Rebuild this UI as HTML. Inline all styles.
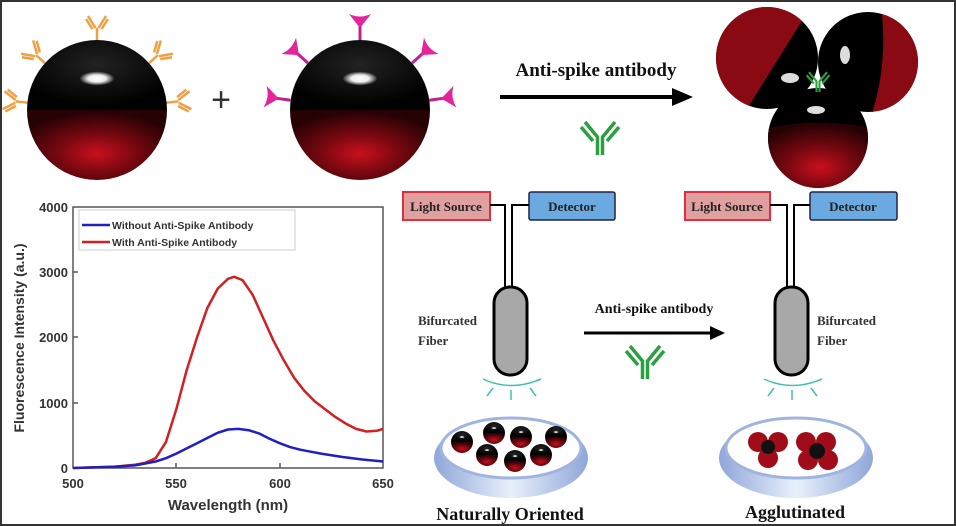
<!DOCTYPE html>
<html><head><meta charset="utf-8"><style>
html,body{margin:0;padding:0;background:#fff}
svg{display:block}
.b{font-family:"Liberation Serif",serif;font-weight:bold}
.s{font-family:"Liberation Sans",sans-serif;font-weight:bold}
</style></head><body>
<svg width="956" height="526" viewBox="0 0 956 526" xmlns="http://www.w3.org/2000/svg">
<defs>
<radialGradient id="blk" cx="0.5" cy="0.35" r="0.6"><stop offset="0" stop-color="#222"/><stop offset="1" stop-color="#000"/></radialGradient>
<radialGradient id="red" cx="0.5" cy="0.62" r="0.6"><stop offset="0" stop-color="#c8101e"/><stop offset="0.45" stop-color="#7a0810"/><stop offset="1" stop-color="#260204"/></radialGradient>
<radialGradient id="hl" cx="0.5" cy="0.5" r="0.5"><stop offset="0" stop-color="#fff"/><stop offset="0.5" stop-color="#eee"/><stop offset="1" stop-color="#fff" stop-opacity="0"/></radialGradient>
<linearGradient id="dish" x1="0" y1="0" x2="1" y2="0"><stop offset="0" stop-color="#8fa6d8"/><stop offset="0.5" stop-color="#e8f0fb"/><stop offset="1" stop-color="#8fa6d8"/></linearGradient>
<symbol id="sph" viewBox="-1 -1 2 2">
<clipPath id="cc"><circle r="1"/></clipPath>
<g clip-path="url(#cc)"><rect x="-1" y="-1" width="2" height="1" fill="url(#blk)"/><rect x="-1" y="0" width="2" height="1" fill="url(#red)"/></g>
<ellipse cx="0" cy="-0.45" rx="0.25" ry="0.1" fill="url(#hl)"/>
</symbol>
<g id="ab"><path d="M0 0 V-12 M-1.5 -12 L-9 -24 M1.5 -12 L9 -24 M-4.5 -11 L-11 -21 M4.5 -11 L11 -21" stroke="#f0a040" stroke-width="2.5" fill="none"/></g>
<g id="sp"><path d="M0 0 V-14" stroke="#c0208f" stroke-width="3"/><path d="M0 -12 L-11 -26 Q0 -21 11 -26 Z" fill="#e5239a"/></g>
<g id="gy"><path d="M-2.5 0 V-18 L-15 -33 M2.5 0 V-18 L15 -33 M-7 -14 L-19 -28 M7 -14 L19 -28" stroke="#2aa040" stroke-width="3.5" fill="none"/></g>
</defs>
<rect x="0" y="0" width="956" height="526" fill="#fff"/>
<rect x="1" y="1" width="954" height="524" fill="none" stroke="#333" stroke-width="2"/>

<g transform="translate(97,110)">
<g transform="translate(0,-70)"><use href="#ab"/></g>
<g transform="rotate(-48) translate(0,-70)"><use href="#ab"/></g>
<g transform="rotate(48) translate(0,-70)"><use href="#ab"/></g>
<g transform="rotate(-84) translate(0,-70)"><use href="#ab"/></g>
<g transform="rotate(84) translate(0,-70)"><use href="#ab"/></g>
</g>
<use href="#sph" x="27" y="40" width="140" height="140"/>
<text x="221" y="111" font-family="Liberation Sans" font-size="34" text-anchor="middle" fill="#333">+</text>
<g transform="translate(360,110)">
<g transform="translate(0,-70)"><use href="#sp"/></g>
<g transform="rotate(-48) translate(0,-70)"><use href="#sp"/></g>
<g transform="rotate(48) translate(0,-70)"><use href="#sp"/></g>
<g transform="rotate(-82) translate(0,-70)"><use href="#sp"/></g>
<g transform="rotate(82) translate(0,-70)"><use href="#sp"/></g>
</g>
<use href="#sph" x="290" y="40" width="140" height="140"/>

<text x="596" y="76" class="b" font-size="19" text-anchor="middle" fill="#111">Anti-spike antibody</text>
<line x1="500" y1="97" x2="675" y2="97" stroke="#000" stroke-width="4"/>
<path d="M672 88 L693 97 L672 106 Z" fill="#000"/>
<g transform="translate(600,155)"><use href="#gy"/></g>

<!-- cluster -->
<clipPath id="c1"><circle cx="767" cy="58" r="51"/></clipPath>
<g clip-path="url(#c1)"><rect x="710" y="0" width="120" height="120" fill="#000"/><path d="M710 0 H815 L740 120 H710 Z" fill="#8a0a14"/></g>
<clipPath id="c2"><circle cx="868" cy="62" r="50"/></clipPath>
<g clip-path="url(#c2)"><rect x="810" y="0" width="120" height="120" fill="#000"/><path d="M880 0 H930 V120 H870 Q890 60 880 0Z" fill="#8a0a14"/></g>
<clipPath id="c3"><circle cx="818" cy="138" r="50"/></clipPath>
<g clip-path="url(#c3)"><rect x="760" y="85" width="120" height="110" fill="#000"/><path d="M760 130 Q818 115 880 130 V195 H760 Z" fill="url(#red)"/></g>
<ellipse cx="790" cy="78" rx="9" ry="5" fill="#ddd"/>
<ellipse cx="845" cy="55" rx="5" ry="9" fill="#ddd"/>
<ellipse cx="816" cy="110" rx="9" ry="4" fill="#ddd"/>
<g transform="translate(818,92) scale(0.6)"><use href="#gy"/></g>

<!-- graph -->
<rect x="73" y="207" width="310" height="261" fill="none" stroke="#555" stroke-width="1.5"/>
<g font-family="Liberation Sans" font-weight="bold" font-size="13" fill="#333" text-anchor="end">
<text x="68" y="212">4000</text><text x="68" y="277">3000</text><text x="68" y="342">2000</text><text x="68" y="408">1000</text><text x="68" y="473">0</text>
</g>
<g stroke="#555" stroke-width="1.5">
<line x1="73" y1="272" x2="78" y2="272"/><line x1="73" y1="337" x2="78" y2="337"/><line x1="73" y1="403" x2="78" y2="403"/>
<line x1="176" y1="468" x2="176" y2="463"/><line x1="280" y1="468" x2="280" y2="463"/>
</g>
<g font-family="Liberation Sans" font-weight="bold" font-size="13" fill="#333" text-anchor="middle">
<text x="73" y="488">500</text><text x="176" y="488">550</text><text x="280" y="488">600</text><text x="383" y="488">650</text>
</g>
<text x="228" y="510" class="s" font-size="15" text-anchor="middle" fill="#333">Wavelength (nm)</text>
<text transform="translate(24,338) rotate(-90)" class="s" font-size="14" text-anchor="middle" fill="#333">Fluorescence Intensity (a.u.)</text>
<rect x="79" y="210" width="216" height="40" fill="#fff" stroke="#ccc"/>
<line x1="82" y1="225" x2="110" y2="225" stroke="#2020c0" stroke-width="2.5"/>
<line x1="82" y1="242" x2="110" y2="242" stroke="#d02020" stroke-width="2.5"/>
<text x="112" y="229" class="s" font-size="10.5" fill="#333">Without Anti-Spike Antibody</text>
<text x="112" y="246" class="s" font-size="10.5" fill="#333">With Anti-Spike Antibody</text>
<polyline points="73,468 114.3,466.7 135,464.7 145.3,462.8 155.7,458.2 166,441.9 176.3,409.3 186.7,370.1 197,337.5 207.3,308.1 217.7,288.6 228,278.8 234.2,276.8 242.5,280.1 252.8,295.1 263.1,317.9 273.5,340.8 283.8,360.3 294.1,377.8 304.5,391 314.8,401.4 325.1,409.3 335.5,417.1 345.8,423.6 356.1,428.9 366.5,431.5 376.8,430.8 383,428.9" fill="none" stroke="#d02020" stroke-width="2.5" stroke-linejoin="round"/>
<polyline points="73,468 114.3,466.7 135,465.4 155.7,461.5 166,458.2 176.3,453.6 186.7,448.4 197,443.2 207.3,438 217.7,432.8 228,429.5 238.3,428.9 248.7,430.2 259,433.4 269.3,438.6 279.7,443.2 290,447.1 300.3,449.7 310.7,451.7 321,453.6 341.7,456.9 362.3,459.5 383,461.5" fill="none" stroke="#2020c0" stroke-width="2.5" stroke-linejoin="round"/>

<!-- left setup -->
<rect x="403" y="192" width="87" height="28" fill="#e0a0a0" stroke="#e03040" stroke-width="2"/>
<text x="446" y="211" class="b" font-size="13" text-anchor="middle" fill="#222">Light Source</text>
<rect x="529" y="192" width="86" height="28" rx="2" fill="#6aaae0" stroke="#224" stroke-width="1.5"/>
<text x="572" y="211" class="b" font-size="13" text-anchor="middle" fill="#222">Detector</text>
<path d="M490 205 H505 V287 M529 205 H512 V287" fill="none" stroke="#000" stroke-width="2"/>
<rect x="494" y="287" width="33" height="88" rx="16" fill="#a8a8a8" stroke="#000" stroke-width="3"/>
<text x="418" y="325" class="b" font-size="13" fill="#333">Bifurcated</text>
<text x="418" y="345" class="b" font-size="13" fill="#333">Fiber</text>
<path d="M483 379 Q511 392 541 379" fill="none" stroke="#40c0b0" stroke-width="1.5"/>
<path d="M487 396 L493 388 M511 400 V390 M536 396 L530 388" stroke="#40c0b0" stroke-width="1.5"/>
<ellipse cx="511" cy="458" rx="77" ry="40" fill="url(#dish)"/>
<ellipse cx="511" cy="448" rx="70" ry="30" fill="#fff" stroke="#a0b4e0" stroke-width="3"/>
<g>
<use href="#sph" x="451" y="431" width="22" height="22"/><use href="#sph" x="483" y="422" width="22" height="22"/>
<use href="#sph" x="510" y="426" width="22" height="22"/><use href="#sph" x="545" y="426" width="22" height="22"/>
<use href="#sph" x="476" y="444" width="22" height="22"/><use href="#sph" x="504" y="450" width="22" height="22"/>
<use href="#sph" x="530" y="444" width="22" height="22"/>
</g>
<text x="510" y="520" class="b" font-size="18" text-anchor="middle" fill="#111">Naturally Oriented</text>

<!-- middle arrow -->
<text x="654" y="313" class="b" font-size="14" text-anchor="middle" fill="#111">Anti-spike antibody</text>
<line x1="584" y1="333" x2="712" y2="333" stroke="#000" stroke-width="3"/>
<path d="M710 326 L725 333 L710 340 Z" fill="#000"/>
<g transform="translate(645,379)"><use href="#gy"/></g>

<!-- right setup -->
<rect x="685" y="192" width="85" height="28" fill="#e0a0a0" stroke="#e03040" stroke-width="2"/>
<text x="727" y="211" class="b" font-size="13" text-anchor="middle" fill="#222">Light Source</text>
<rect x="810" y="192" width="87" height="28" rx="2" fill="#6aaae0" stroke="#224" stroke-width="1.5"/>
<text x="853" y="211" class="b" font-size="13" text-anchor="middle" fill="#222">Detector</text>
<path d="M770 205 H787 V287 M810 205 H794 V287" fill="none" stroke="#000" stroke-width="2"/>
<rect x="775" y="287" width="33" height="88" rx="16" fill="#a8a8a8" stroke="#000" stroke-width="3"/>
<text x="817" y="325" class="b" font-size="13" fill="#333">Bifurcated</text>
<text x="817" y="345" class="b" font-size="13" fill="#333">Fiber</text>
<path d="M764 379 Q792 392 822 379" fill="none" stroke="#40c0b0" stroke-width="1.5"/>
<path d="M768 396 L774 388 M792 400 V390 M817 396 L811 388" stroke="#40c0b0" stroke-width="1.5"/>
<ellipse cx="796" cy="458" rx="77" ry="40" fill="url(#dish)"/>
<ellipse cx="796" cy="448" rx="70" ry="30" fill="#fff" stroke="#a0b4e0" stroke-width="3"/>
<g>
<circle cx="758" cy="442" r="10" fill="#a00c1a"/><circle cx="778" cy="442" r="10" fill="#a00c1a"/><circle cx="768" cy="458" r="10" fill="#a00c1a"/>
<circle cx="768" cy="447" r="7" fill="#111"/>
<circle cx="806" cy="442" r="10" fill="#a00c1a"/><circle cx="826" cy="442" r="10" fill="#a00c1a"/><circle cx="808" cy="460" r="10" fill="#a00c1a"/><circle cx="828" cy="460" r="10" fill="#a00c1a"/>
<circle cx="817" cy="451" r="8" fill="#111"/>
</g>
<text x="795" y="518" class="b" font-size="18" text-anchor="middle" fill="#111">Agglutinated</text>
</svg>
</body></html>
